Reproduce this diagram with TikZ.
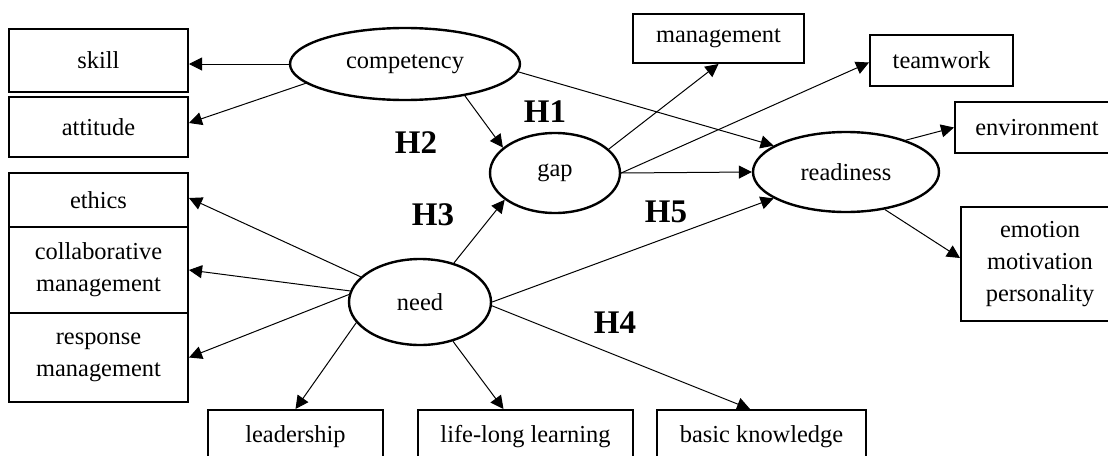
\documentclass[tikz,border=0pt]{standalone}
\usepackage{fontspec}
\setmainfont{Liberation Serif}
\usetikzlibrary{shapes.geometric,arrows.meta}

\tikzset{
  item/.style={draw, line width=1pt, rectangle, inner sep=0pt, align=center,
    font=\fontsize{12.2}{16}\selectfont},
  latent/.style={draw, line width=1.2pt, ellipse, inner sep=0pt,
    font=\fontsize{12.2}{16}\selectfont},
  link/.style={line width=0.5pt, -{Triangle[length=6.5pt,width=6.5pt]}},
  hyp/.style={font=\fontsize{16.5}{18}\selectfont\bfseries, inner sep=0pt}
}

\begin{document}
\begin{tikzpicture}[x=0.5pt, y=-0.5pt]
  \clip (0,0) rectangle (1108,455);
  \fill[white] (0,0) rectangle (1108,455);

  % indicator boxes, left column
  \node[item, minimum width=89.5pt, minimum height=31.5pt] (skill) at (98.5,60.5) {skill};
  \node[item, minimum width=89.5pt, minimum height=30pt] (att) at (98.5,127) {attitude};
  \node[item, minimum width=89.5pt, minimum height=27pt] (ethics) at (98.5,200) {ethics};
  \node[item, minimum width=89.5pt, minimum height=43pt] (collab) at (98.5,270) {collaborative\\management};
  \node[item, minimum width=89.5pt, minimum height=44.5pt] (resp) at (98.5,357.5) {response\\management};

  % indicator boxes, top and right
  \node[item, minimum width=85.5pt, minimum height=24.5pt] (mgmt) at (718.5,38.5) {management};
  \node[item, minimum width=71.5pt, minimum height=25.5pt] (team) at (941.5,60.5) {teamwork};
  \node[item, minimum width=82pt, minimum height=25.5pt] (env) at (1037,127.5) {environment};
  \node[item, minimum width=79pt, minimum height=57pt] (emo) at (1040,264) {emotion\\motivation\\personality};

  % indicator boxes, bottom row
  \node[item, minimum width=87.5pt, minimum height=27pt] (lead) at (295.5,437) {leadership};
  \node[item, minimum width=107.5pt, minimum height=27pt] (life) at (525.5,437) {life-long learning};
  \node[item, minimum width=104.5pt, minimum height=27pt] (basic) at (761.5,437) {basic knowledge};

  % latent constructs
  \node[latent, minimum width=115pt, minimum height=36pt] (comp) at (405,64) {competency};
  \node[latent, minimum width=65pt, minimum height=40pt] (gap) at (555,173) {gap};
  \node[latent, minimum width=93pt, minimum height=40pt] (ready) at (846,172) {readiness};
  \node[latent, minimum width=71pt, minimum height=43pt] (need) at (420,302) {need};

  % hypothesis labels
  \node[hyp] (h1) at (545,112) {H1};
  \node[hyp] (h2) at (416,143) {H2};
  \node[hyp] (h3) at (433,215) {H3};
  \node[hyp] (h4) at (615,323) {H4};
  \node[hyp] (h5) at (666,212) {H5};

  % competency
  \draw[link] (comp.west) -- (skill.east |- comp.west);
  \draw[link] (comp.191) -- ([yshift=2pt]att.east);
  \draw[link] (comp.-28) -- (gap.154);
  \draw[link] (comp.-4.5) -- (ready.160);

  % gap
  \draw[link] (gap.24.5) -- (mgmt.south);
  \draw[link] (gap.east) -- ([yshift=-1pt]team.west);
  \draw[link] (gap.east) -- (ready.west);

  % readiness
  \draw[link] (ready.28) -- (env.west);
  \draw[link] (ready.-44) -- ([yshift=3pt]emo.west);

  % need
  \draw[link] (need.157) -- ([yshift=1pt]ethics.east);
  \draw[link] (need.171) -- (collab.east);
  \draw[link] (need.174) -- (resp.east);
  \draw[link] (need.198) -- (lead.north);
  \draw[link] (need.-50) -- ([xshift=-11pt]life.north);
  \draw[link] (need.49) -- (gap.208);
  \draw[link] (need.east) -- (ready.200);
  \draw[link] (need.-3) -- ([xshift=-5.75pt]basic.north);
\end{tikzpicture}
\end{document}
